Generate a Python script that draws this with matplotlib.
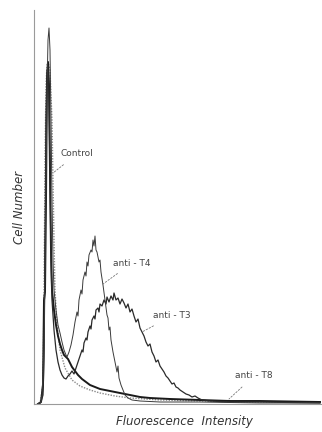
import matplotlib
matplotlib.use("Agg")
import matplotlib.pyplot as plt

# channel (fluorescence intensity) and cell counts
t4_x = [4, 7, 8, 9, 10, 11, 12, 13, 14, 15, 16, 17, 18, 19, 20, 22, 24, 26, 28, 30, 32, 33, 35, 37, 39, 41, 43, 44, 45, 47, 48, 49, 51, 52, 53, 54, 55, 57, 58, 59, 60, 61, 62, 63, 65, 66, 67, 69, 71, 73, 74, 75, 76, 77, 79, 81, 83, 84, 85, 87, 89, 91, 94, 98, 106, 126, 166, 226, 286]
t4_y = [0, 2, 10, 30, 57, 134, 220, 314, 364, 376, 354, 284, 204, 144, 114, 94, 79, 71, 62, 54, 49, 47, 52, 59, 69, 82, 92, 88, 104, 114, 110, 124, 132, 128, 142, 138, 149, 154, 152, 164, 158, 168, 154, 152, 142, 144, 132, 119, 104, 89, 86, 74, 77, 64, 52, 42, 32, 38, 26, 19, 14, 9, 6, 4, 3, 2, 2, 1, 1]

t3_x = [4, 7, 9, 10, 11, 12, 13, 14, 15, 16, 17, 18, 20, 22, 24, 26, 28, 30, 32, 34, 36, 38, 40, 42, 44, 46, 48, 49, 50, 52, 53, 54, 56, 57, 58, 60, 61, 62, 64, 65, 66, 68, 70, 72, 73, 75, 77, 79, 80, 82, 84, 86, 88, 90, 92, 94, 96, 98, 100, 102, 104, 106, 108, 110, 112, 114, 116, 118, 120, 122, 124, 126, 128, 130, 132, 134, 136, 138, 140, 142, 144, 146, 149, 152, 155, 158, 161, 164, 168, 176, 196, 226, 286]
t3_y = [0, 2, 9, 44, 154, 284, 332, 338, 314, 224, 144, 104, 74, 54, 42, 34, 29, 26, 25, 28, 30, 33, 30, 36, 42, 48, 54, 52, 61, 66, 64, 72, 78, 75, 84, 88, 85, 94, 96, 92, 100, 98, 104, 100, 107, 102, 108, 104, 111, 104, 106, 100, 105, 101, 96, 100, 92, 95, 88, 82, 85, 76, 72, 68, 62, 58, 60, 52, 48, 42, 44, 38, 35, 32, 28, 26, 23, 20, 21, 17, 16, 14, 12, 10, 9, 7, 8, 6, 4, 3, 2, 2, 1]

t8_x = [4, 7, 9, 10, 11, 12, 13, 14, 15, 16, 17, 18, 20, 22, 24, 26, 28, 30, 32, 34, 36, 38, 41, 44, 48, 52, 56, 61, 66, 76, 86, 96, 106, 116, 136, 166, 196, 226, 286]
t8_y = [0, 2, 19, 104, 112, 204, 324, 342, 319, 234, 154, 114, 94, 79, 68, 60, 54, 49, 47, 45, 41, 37, 33, 29, 25, 22, 19, 17, 15, 13, 11, 9, 7, 6, 5, 4, 3, 3, 2]

ctrl_x = [6, 9, 10, 11, 12, 13, 14, 16, 18, 19, 20, 21, 23, 26, 31, 38, 46, 56, 66, 81, 96, 126, 166, 216, 286]
ctrl_y = [0, 19, 104, 244, 319, 339, 342, 334, 284, 224, 164, 114, 79, 54, 36, 24, 18, 14, 11, 8, 6, 4, 3, 2, 2]

labels = ["Control", "anti - T4", "anti - T3", "anti - T8"]

fig = plt.figure(figsize=(3.22, 4.32), dpi=100)
ax = fig.add_axes([34 / 322, 28 / 432, 287 / 322, 394 / 432])

ax.plot(ctrl_x, ctrl_y, color="#8a8a8a", lw=1.0, ls=(0, (1, 1)))
ax.plot(t8_x, t8_y, color="#1a1a1a", lw=1.4)
ax.plot(t3_x, t3_y, color="#2a2a2a", lw=0.9)
ax.plot(t4_x, t4_y, color="#3a3a3a", lw=0.7)

ax.set_xlim(0, 287)
ax.set_ylim(0, 394)
for s in ["top", "right"]:
    ax.spines[s].set_visible(False)
for s in ["left", "bottom"]:
    ax.spines[s].set_color("#9a9a9a")
    ax.spines[s].set_linewidth(0.8)
ax.set_xticks([])
ax.set_yticks([])

fs = 6.5
tc = "#444444"
leader = dict(arrowstyle="-", ls=(0, (2, 2)), color="#777777", lw=0.6,
              shrinkA=4, shrinkB=0)
ax.annotate(labels[0], xy=(19, 231), xytext=(43, 250), fontsize=fs, color=tc,
            ha="center", va="center", arrowprops=leader)
ax.annotate(labels[1], xy=(69, 120), xytext=(98, 141), fontsize=fs, color=tc,
            ha="center", va="center", arrowprops=leader)
ax.annotate(labels[2], xy=(108, 72), xytext=(138, 88), fontsize=fs, color=tc,
            ha="center", va="center", arrowprops=leader)
ax.annotate(labels[3], xy=(195, 5), xytext=(220, 28), fontsize=fs, color=tc,
            ha="center", va="center", arrowprops=leader)

fig.text(20 / 322, 1 - 207 / 432, "Cell Number", rotation=90, fontsize=8.5,
         style="italic", color="#333333", ha="center", va="center")
fig.text(184 / 322, 1 - 421 / 432, "Fluorescence  Intensity", fontsize=8.5,
         style="italic", color="#333333", ha="center", va="center")

fig.savefig("out.png", dpi=100, facecolor="white")
